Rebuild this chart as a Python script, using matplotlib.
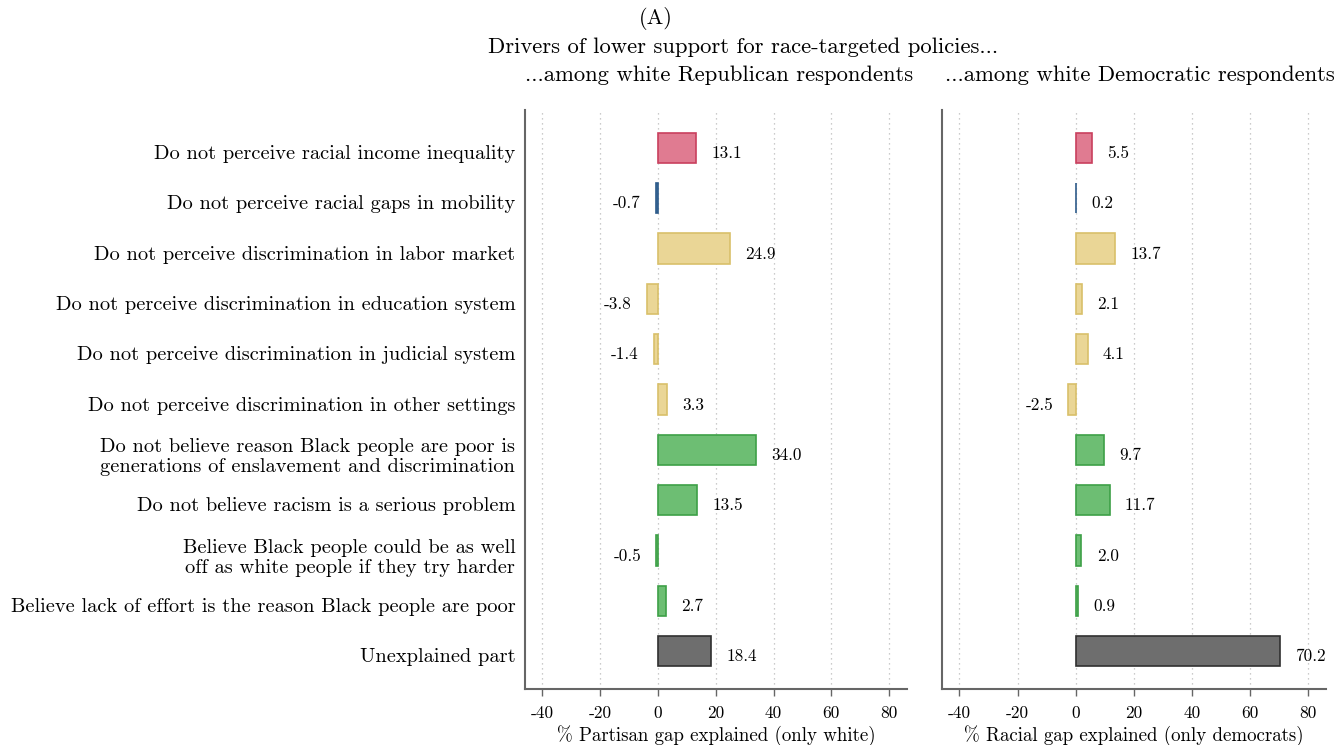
import matplotlib
matplotlib.use("Agg")
import matplotlib.pyplot as plt
import matplotlib.transforms as mtransforms
import numpy as np

plt.rcParams['font.family'] = ['cmr10', 'DejaVu Serif']
plt.rcParams['axes.unicode_minus'] = False
plt.rcParams['mathtext.fontset'] = 'cm'

# data
categories = [
    "Do not perceive racial income inequality",
    "Do not perceive racial gaps in mobility",
    "Do not perceive discrimination in labor market",
    "Do not perceive discrimination in education system",
    "Do not perceive discrimination in judicial system",
    "Do not perceive discrimination in other settings",
    "Do not believe reason Black people are poor is\ngenerations of enslavement and discrimination",
    "Do not believe racism is a serious problem",
    "Believe Black people could be as well\noff as white people if they try harder",
    "Believe lack of effort is the reason Black people are poor",
    "Unexplained part",
]
groups = ["income", "mobility", "discr", "discr", "discr", "discr",
          "belief", "belief", "belief", "belief", "unexpl"]
rep_gap = [13.1, -0.7, 24.9, -3.8, -1.4, 3.3, 34.0, 13.5, -0.5, 2.7, 18.4]
dem_gap = [5.5, 0.2, 13.7, 2.1, 4.1, -2.5, 9.7, 11.7, 2.0, 0.9, 70.2]
xticks = [-40, -20, 0, 20, 40, 60, 80]

fills = {"income": "#e07b91", "mobility": "#4a79a8", "discr": "#ead696",
         "belief": "#6dbe73", "unexpl": "#6e6e6e"}
edges = {"income": "#c9405e", "mobility": "#2e5b8a", "discr": "#d9c06a",
         "belief": "#3da047", "unexpl": "#303030"}

fig = plt.figure(figsize=(13.37, 7.45), dpi=100)
ax1 = fig.add_axes([525/1337, 56/745, 382/1337, 579/745])
ax2 = fig.add_axes([942/1337, 56/745, 384/1337, 579/745])

y = np.arange(len(categories))

def draw(ax, vals, xlabel):
    ax.barh(y, vals, height=0.6,
            color=[fills[g] for g in groups],
            edgecolor=[edges[g] for g in groups], linewidth=1.2, zorder=3)
    for yi, v in zip(y, vals):
        off = 11 if v >= 0 else -11
        ax.annotate(f"{v:.1f}", (v, yi), xytext=(off, -4), textcoords="offset points",
                    ha="left" if v >= 0 else "right", va="center", fontsize=12.4)
    ax.set_xlim(-46, 86.2)
    ax.set_ylim(10.75, -0.75)
    ax.set_xticks(xticks)
    ax.set_xticklabels([str(t) for t in xticks], fontsize=12.5)
    ax.tick_params(axis='x', length=5, width=1, color="#666666", pad=7)
    ax.grid(axis='x', linestyle=(0, (1, 3)), color="#bbbbbb", linewidth=0.9, zorder=0)
    for s in ["top", "right"]:
        ax.spines[s].set_visible(False)
    for s in ["left", "bottom"]:
        ax.spines[s].set_color("#666666")
        ax.spines[s].set_linewidth(1.5)
    ax.set_xlabel(xlabel, fontsize=13.6, labelpad=3)

draw(ax1, rep_gap, "% Partisan gap explained (only white)")
draw(ax2, dem_gap, "% Racial gap explained (only democrats)")

ax1.set_yticks(y)
ax1.set_yticklabels(categories, fontsize=14.7, linespacing=1.15)
ax1.tick_params(axis='y', length=0, pad=7)
# category labels sit a little below bar centre, as in the original
shift = mtransforms.ScaledTranslation(0, -3/72, fig.dpi_scale_trans)
for lab in ax1.get_yticklabels():
    lab.set_transform(lab.get_transform() + shift)
ax2.set_yticks([])

fig.text(656/1337, 1 - 18/745, "(A)", ha="center", va="center", fontsize=16)
fig.text(743/1337, 1 - 47/745, "Drivers of lower support for race-targeted policies...",
         ha="center", va="center", fontsize=16.3)
fig.text(719/1337, 1 - 75/745, "...among white Republican respondents",
         ha="center", va="center", fontsize=16.3)
fig.text(1140/1337, 1 - 75/745, "...among white Democratic respondents",
         ha="center", va="center", fontsize=16.3)

fig.savefig("out.png", dpi=100)
